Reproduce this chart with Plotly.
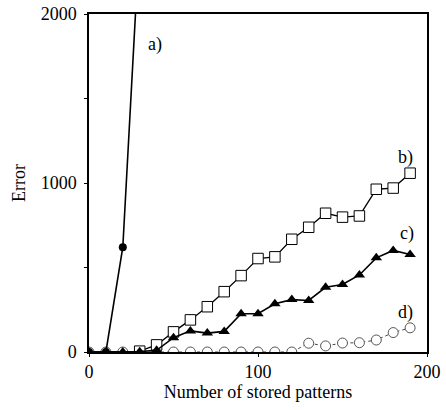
import plotly.graph_objects as go

x_vals = [0, 10, 20, 30, 40, 50, 60, 70, 80, 90, 100, 110, 120, 130, 140, 150, 160, 170, 180, 190]

a_x = [0, 10, 20, 30]
a_y = [0, 0, 620, 2460]

b_x = [30, 40, 50, 60, 70, 80, 90, 100, 110, 120, 130, 140, 150, 160, 170, 180, 190]
b_y = [5, 42, 119, 190, 268, 357, 452, 553, 563, 667, 738, 821, 798, 805, 963, 970, 1058]
c_y = [0, 0, 0, 2, 10, 85, 125, 112, 122, 226, 226, 285, 310, 305, 383, 399, 456, 557, 601, 577]
d_y = [0, 0, 0, 0, 0, 0, 0, 0, 0, 0, 0, 0, 0, 52, 36, 53, 55, 71, 115, 143]

labels = ["a)", "b)", "c)", "d)"]
label_x = [39, 187, 188, 187]
label_y = [1820, 1150, 700, 235]

FONT = "Liberation Serif"

fig = go.Figure()
fig.add_trace(go.Scatter(
    x=x_vals, y=d_y, mode="lines+markers",
    line=dict(color="#444", width=1, dash="dot"),
    marker=dict(symbol="circle", size=10, color="white",
                line=dict(color="#555", width=1)),
))
fig.add_trace(go.Scatter(
    x=b_x, y=b_y, mode="lines+markers",
    line=dict(color="black", width=1.3),
    marker=dict(symbol="square", size=10.5, color="white",
                line=dict(color="black", width=1)),
))
fig.add_trace(go.Scatter(
    x=x_vals, y=c_y, mode="lines+markers",
    line=dict(color="black", width=1.6),
    marker=dict(symbol="triangle-up", size=10, color="black"),
))
fig.add_trace(go.Scatter(
    x=a_x, y=a_y, mode="lines+markers",
    line=dict(color="black", width=1.6),
    marker=dict(symbol="circle", size=8, color="black"),
))

for t, lx, ly in zip(labels, label_x, label_y):
    fig.add_annotation(x=lx, y=ly, text=t, showarrow=False,
                       font=dict(family=FONT, size=18, color="black"))

fig.update_layout(
    width=446, height=410,
    margin=dict(l=89, r=19, t=14, b=58),
    paper_bgcolor="white", plot_bgcolor="white",
    showlegend=False,
    font=dict(family=FONT, size=18, color="black"),
)
fig.update_xaxes(
    range=[0, 200], tickvals=[0, 100, 200], showgrid=False, zeroline=False,
    showline=True, linecolor="black", linewidth=1.5, mirror=True,
    ticks="outside", ticklen=3, tickcolor="black", automargin=False,
    ticklabeloverflow="allow",
    title=dict(text="Number of stored patterns", font=dict(family=FONT, size=18), standoff=2),
    tickfont=dict(family=FONT, size=18),
)
fig.update_yaxes(
    range=[0, 2000], tickvals=[0, 500, 1000, 1500, 2000], ticktext=["0", "", "1000", "", "2000"],
    showgrid=False, zeroline=False,
    showline=True, linecolor="black", linewidth=1.5, mirror=True,
    ticks="outside", ticklen=3, tickcolor="black", automargin=False,
    ticklabelstandoff=4, ticklabeloverflow="allow",
    title=dict(text="Error", font=dict(family=FONT, size=18), standoff=10),
    tickfont=dict(family=FONT, size=18),
)

fig.write_html("out.html", config={"displayModeBar": False},
               post_script="document.body.style.margin='0';document.body.style.overflow='hidden';")
